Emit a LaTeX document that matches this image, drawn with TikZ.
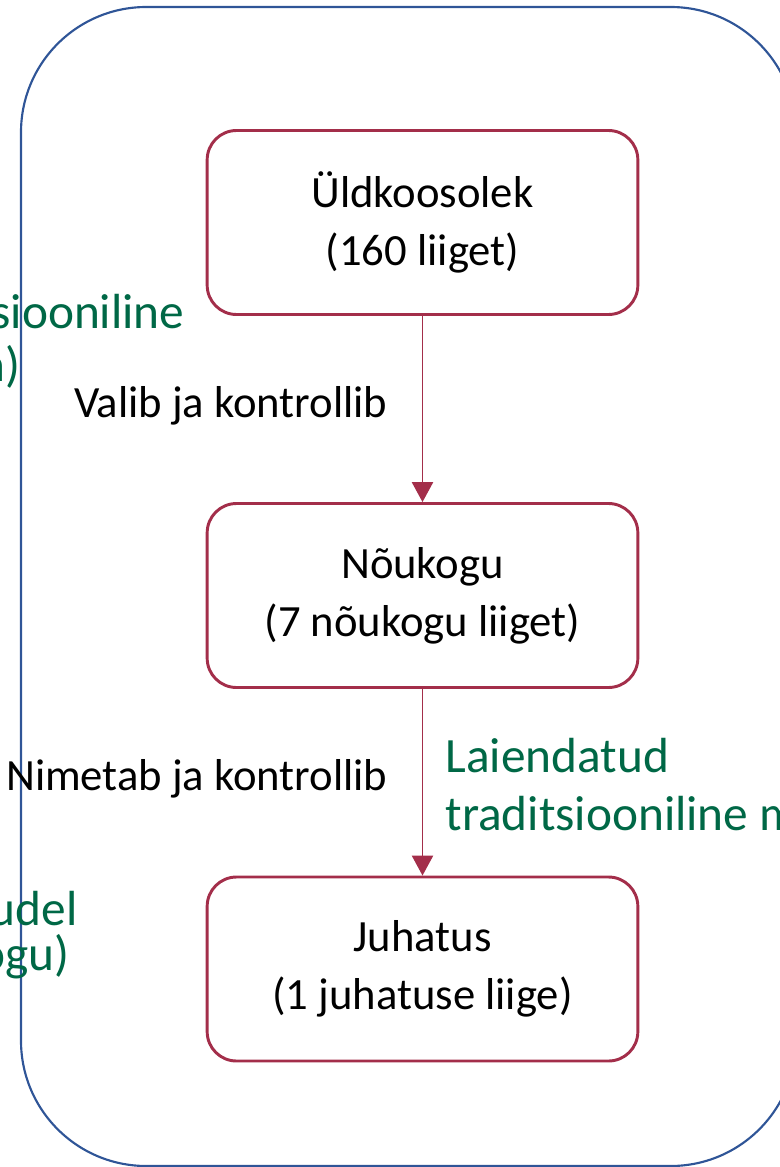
\documentclass[tikz,border=0pt]{standalone}
\usepackage{fontspec}
\setmainfont{Carlito}
\usetikzlibrary{arrows.meta}

\definecolor{raam}{RGB}{47,85,151}
\definecolor{kast}{RGB}{163,46,74}
\definecolor{roheline}{RGB}{0,104,70}

\tikzset{every picture/.style={line width=0.75pt}}

\begin{document}
\begin{tikzpicture}[x=0.75pt,y=0.75pt,yscale=-1,xscale=1,
  organ/.style={draw=kast, line width=2.2pt, rounded corners=22pt, minimum width=323pt, minimum height=138pt, inner sep=0pt, align=center, font=\fontsize{33.5}{43.5}\selectfont},
  seos/.style={draw=kast, line width=1.1pt, -{Triangle[width=16pt,length=15pt]}},
  silt/.style={inner sep=0pt, font=\fontsize{33.5}{40}\selectfont},
  mudel/.style={inner sep=0pt, text=roheline, font=\fontsize{37}{43.5}\selectfont}]
	\useasboundingbox (0,0) rectangle (780,1167);
	
	%Outer frame
	\draw [raam, line width=1.6pt, rounded corners=94pt] (21,7) rectangle (796,1166);
	
	% Organs
	\node [organ] (uldk) at (422.5,222.5) {Üldkoosolek\\(160 liiget)};
	\node [organ] (noukogu) at (422.5,595.5) {Nõukogu\\(7 nõukogu liiget)};
	\node [organ] (juhatus) at (422.5,969) {Juhatus\\(1 juhatuse liige)};
	
	% Connectors
	\draw [seos] (uldk) -- (noukogu);
	\draw [seos] (noukogu) -- (juhatus);
	
	% Text Node
	\node [silt, anchor=base east] (valib) at (388,417) {Valib ja kontrollib};
	% Text Node
	\node [silt, anchor=base east] (nimetab) at (388,790) {Nimetab ja kontrollib};
	
	% Model labels
	\node [mudel, anchor=base west, align=left] (laiendatud) at (445,830) {Laiendatud\\traditsiooniline m};
	\node [mudel, anchor=base west] (vasak1) at (-9,328) {siooniline};
	\node [mudel, anchor=base east] (vasak2) at (21,381) {n)};
	\node [mudel, anchor=base east] (vasak3) at (78,925) {udel};
	\node [mudel, anchor=base east] (vasak4) at (70,970) {ogu)};
	
\end{tikzpicture}
\end{document}
